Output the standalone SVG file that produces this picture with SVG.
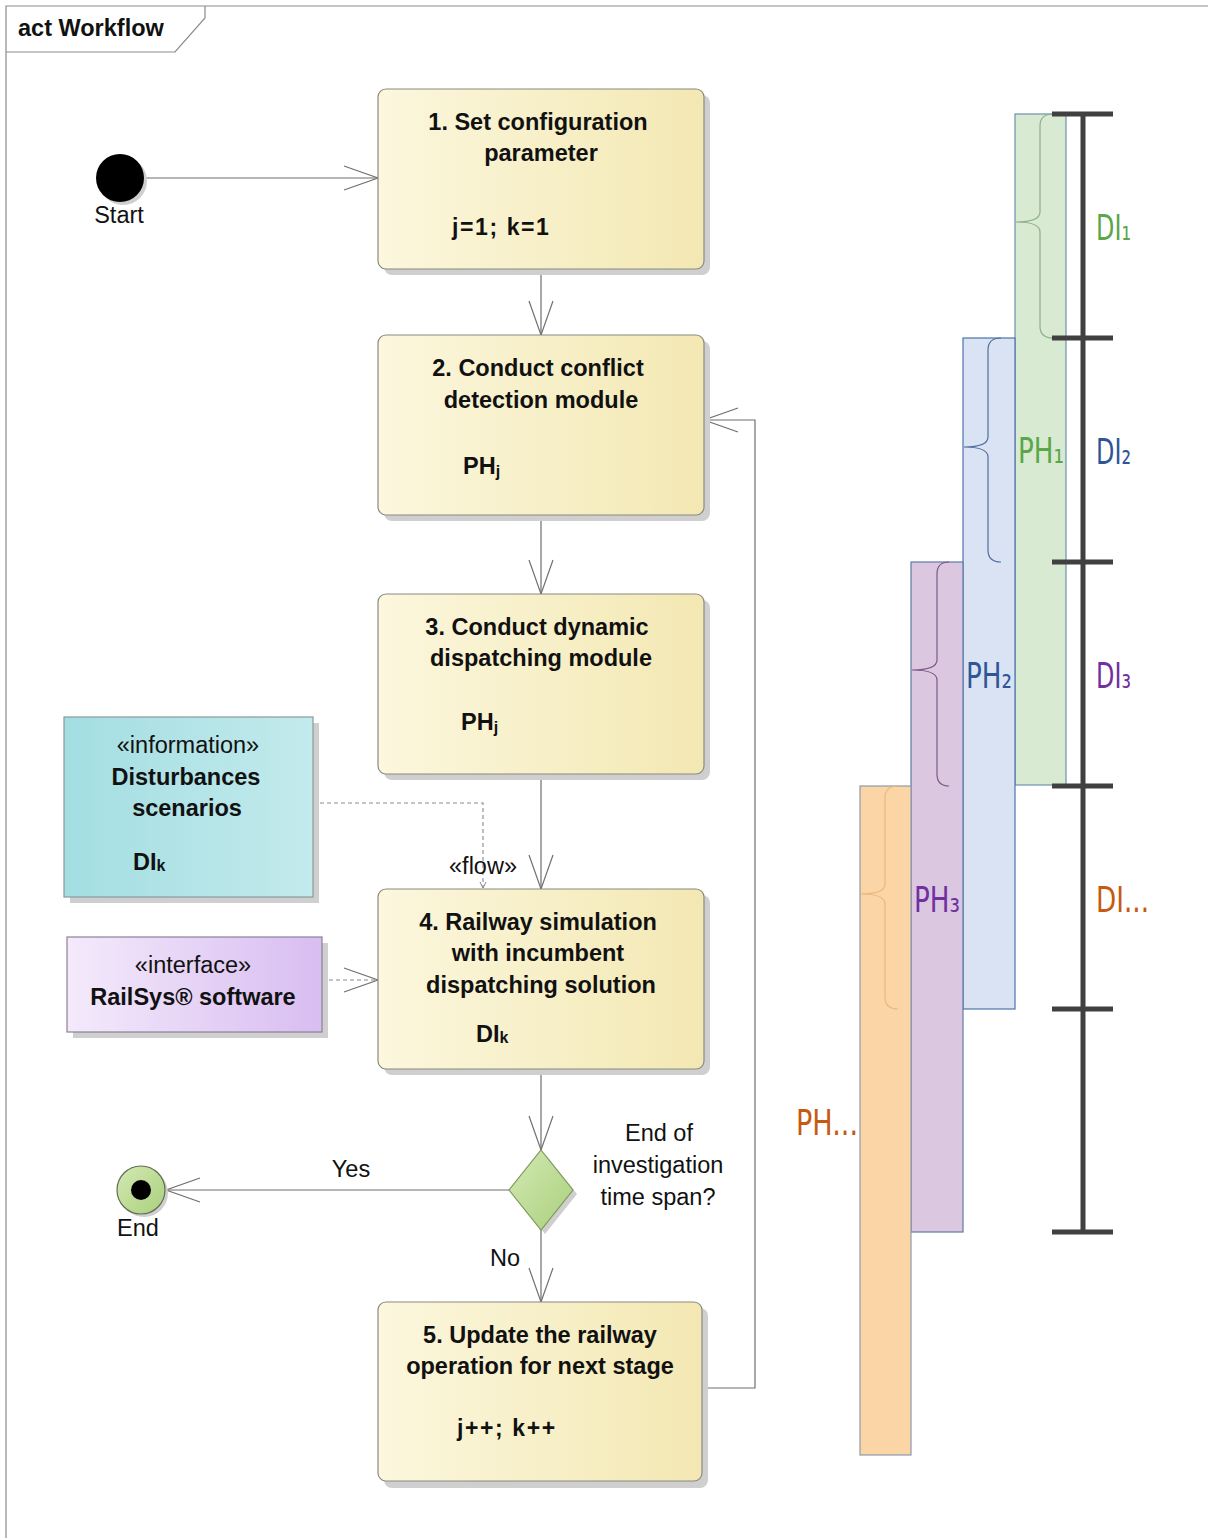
<svg xmlns="http://www.w3.org/2000/svg" width="1208" height="1538" viewBox="0 0 1208 1538">
  <defs>
    <linearGradient id="gAction" x1="0" y1="0" x2="1" y2="0">
      <stop offset="0" stop-color="#fcf7de"/>
      <stop offset="1" stop-color="#f3e8b3"/>
    </linearGradient>
    <linearGradient id="gInfo" x1="0" y1="0" x2="1" y2="0">
      <stop offset="0" stop-color="#a3dee2"/>
      <stop offset="1" stop-color="#c3eaec"/>
    </linearGradient>
    <linearGradient id="gIface" x1="0" y1="0" x2="1" y2="0">
      <stop offset="0" stop-color="#f4eafb"/>
      <stop offset="1" stop-color="#d8bdf1"/>
    </linearGradient>
    <linearGradient id="gGreen" x1="0" y1="0" x2="1" y2="1">
      <stop offset="0" stop-color="#d4e9b4"/>
      <stop offset="1" stop-color="#a9d07c"/>
    </linearGradient>
    <marker id="open" markerUnits="userSpaceOnUse" markerWidth="40" markerHeight="30" viewBox="-36 -14 40 28" refX="0" refY="0" orient="auto">
      <path d="M-34,-12 L0,0 L-34,12" fill="none" stroke="#707070" stroke-width="1.2"/>
    </marker>
    <marker id="small" markerUnits="userSpaceOnUse" markerWidth="10" markerHeight="10" viewBox="-8 -5 10 10" refX="0" refY="0" orient="auto">
      <path d="M-6,-3 L0,0 L-6,3" fill="none" stroke="#888" stroke-width="1"/>
    </marker>
  </defs>
  <style>
    .frame { fill: none; stroke: #8c8c8c; stroke-width: 1.2; }
    .shadow { fill: #cfcfcf; }
    .action { fill: url(#gAction); stroke: #8a8a80; stroke-width: 1.2; }
    .t { font-family: "Liberation Sans", Arial, sans-serif; font-size: 23.5px; fill: #111; }
    .b { font-weight: bold; }
    .c { text-anchor: middle; }
    .mono { font-family: "Liberation Sans", Arial, sans-serif; font-weight: bold; font-size: 23px; letter-spacing: 1.6px; fill: #111; }
    .flow { fill: none; stroke: #6e6e6e; stroke-width: 1.2; }
    .dash { fill: none; stroke: #8a8a8a; stroke-width: 1.1; stroke-dasharray: 4 3; }
    .ph { font-family: "DejaVu Sans Condensed", "DejaVu Sans", sans-serif; font-size: 36px; }
    .tick { stroke: #404040; stroke-width: 5; }
    .brace { fill: none; stroke-width: 1.2; }
  </style>

  <!-- activity frame -->
  <g id="frame">
    <path class="frame" d="M6,1538 L6,6 L1208,6"/>
    <path class="frame" d="M6,52 L175,52 L205,18 L205,6"/>
    <text class="t b" x="18" y="36">act Workflow</text>
  </g>

  <!-- time-line chart: prediction horizons -->
  <g id="horizons">
    <rect x="1015" y="114" width="51" height="671" fill="#d8ebd2" stroke="#6e8fae" stroke-width="1.2"/>
    <rect x="963" y="338" width="52" height="671" fill="#dae3f3" stroke="#4d74a8" stroke-width="1.2"/>
    <rect x="911" y="562" width="52" height="670" fill="#dcc7e0" stroke="#5d7aa6" stroke-width="1.2"/>
    <rect x="860" y="786" width="51" height="669" fill="#fcd5a7" stroke="#8e9aa8" stroke-width="1.2"/>
    <path class="brace" stroke="#8fae8a" d="M1053,114 Q1040,114 1040,126 L1040,212 Q1040,222 1016,222 Q1040,222 1040,232 L1040,326 Q1040,338 1053,338"/>
    <path class="brace" stroke="#4f6f9e" d="M1001,338 Q988,338 988,350 L988,437 Q988,447 964,447 Q988,447 988,457 L988,550 Q988,562 1001,562"/>
    <path class="brace" stroke="#7a5a88" d="M949,562 Q937,562 937,574 L937,660 Q937,670 912,670 Q937,670 937,680 L937,774 Q937,786 949,786"/>
    <path class="brace" stroke="#eab781" d="M898,786 Q885,786 885,798 L885,884 Q885,894 861,894 Q885,894 885,904 L885,997 Q885,1009 898,1009"/>
    <text class="ph" x="1018" y="463" fill="#5aa648" textLength="46" lengthAdjust="spacingAndGlyphs">PH₁</text>
    <text class="ph" x="966" y="688" fill="#2f5597" textLength="46" lengthAdjust="spacingAndGlyphs">PH₂</text>
    <text class="ph" x="914" y="912" fill="#7030a0" textLength="46" lengthAdjust="spacingAndGlyphs">PH₃</text>
    <text class="ph" x="796" y="1135" fill="#c55a11" textLength="62" lengthAdjust="spacingAndGlyphs">PH...</text>
  </g>

  <!-- time-line chart: disturbance intervals -->
  <g id="intervals">
    <line class="tick" x1="1083" y1="114" x2="1083" y2="1232"/>
    <line class="tick" x1="1052" y1="114" x2="1113" y2="114"/>
    <line class="tick" x1="1052" y1="338" x2="1113" y2="338"/>
    <line class="tick" x1="1052" y1="562" x2="1113" y2="562"/>
    <line class="tick" x1="1052" y1="786" x2="1113" y2="786"/>
    <line class="tick" x1="1052" y1="1009" x2="1113" y2="1009"/>
    <line class="tick" x1="1052" y1="1232" x2="1113" y2="1232"/>
    <text class="ph" x="1096" y="240" fill="#5aa648" textLength="35" lengthAdjust="spacingAndGlyphs">DI₁</text>
    <text class="ph" x="1096" y="464" fill="#2f5597" textLength="35" lengthAdjust="spacingAndGlyphs">DI₂</text>
    <text class="ph" x="1096" y="688" fill="#7030a0" textLength="35" lengthAdjust="spacingAndGlyphs">DI₃</text>
    <text class="ph" x="1096" y="912" fill="#c55a11" textLength="53" lengthAdjust="spacingAndGlyphs">DI...</text>
  </g>

  <!-- connectors -->
  <g id="connectors">
    <line class="flow" x1="144" y1="178" x2="378" y2="178" marker-end="url(#open)"/>
    <line class="flow" x1="541" y1="269" x2="541" y2="335" marker-end="url(#open)"/>
    <line class="flow" x1="541" y1="515" x2="541" y2="594" marker-end="url(#open)"/>
    <line class="flow" x1="541" y1="774" x2="541" y2="889" marker-end="url(#open)"/>
    <line class="flow" x1="541" y1="1069" x2="541" y2="1150" marker-end="url(#open)"/>
    <line class="flow" x1="541" y1="1230" x2="541" y2="1302" marker-end="url(#open)"/>
    <line class="flow" x1="509" y1="1190" x2="166" y2="1190" marker-end="url(#open)"/>
    <polyline class="flow" points="704,1388 755,1388 755,420 704,420" marker-end="url(#open)"/>
    <polyline class="dash" points="313,803 483,803 483,888" marker-end="url(#small)"/>
    <line class="dash" x1="322" y1="980" x2="378" y2="980" marker-end="url(#open)"/>
    <text class="t" x="351" y="1177" text-anchor="middle">Yes</text>
    <text class="t" x="505" y="1266" text-anchor="middle">No</text>
    <text class="t" x="483" y="874" text-anchor="middle">«flow»</text>
  </g>

  <!-- start node -->
  <g id="start">
    <circle cx="123" cy="181" r="24" fill="#cfcfcf"/>
    <circle cx="120" cy="178" r="24" fill="#000"/>
    <text class="t c" x="119" y="223">Start</text>
  </g>

  <!-- 1. set configuration parameter -->
  <g id="a1">
    <rect class="shadow" x="384" y="95" width="326" height="180" rx="8"/>
    <rect class="action" x="378" y="89" width="326" height="180" rx="8"/>
    <text class="t b c" x="538" y="130">1. Set configuration</text>
    <text class="t b c" x="541" y="161">parameter</text>
    <text class="mono" x="452" y="235">j=1; k=1</text>
  </g>

  <!-- 2. conflict detection -->
  <g id="a2">
    <rect class="shadow" x="384" y="341" width="326" height="180" rx="8"/>
    <rect class="action" x="378" y="335" width="326" height="180" rx="8"/>
    <text class="t b c" x="538" y="376">2. Conduct conflict</text>
    <text class="t b c" x="541" y="408">detection module</text>
    <text class="t b" x="463" y="474">PH<tspan font-size="16" dy="3">j</tspan></text>
  </g>

  <!-- 3. dynamic dispatching -->
  <g id="a3">
    <rect class="shadow" x="384" y="600" width="326" height="180" rx="8"/>
    <rect class="action" x="378" y="594" width="326" height="180" rx="8"/>
    <text class="t b c" x="537" y="635">3. Conduct dynamic</text>
    <text class="t b c" x="541" y="666">dispatching module</text>
    <text class="t b" x="461" y="730">PH<tspan font-size="16" dy="3">j</tspan></text>
  </g>

  <!-- 4. railway simulation -->
  <g id="a4">
    <rect class="shadow" x="384" y="895" width="326" height="180" rx="8"/>
    <rect class="action" x="378" y="889" width="326" height="180" rx="8"/>
    <text class="t b c" x="538" y="930">4. Railway simulation</text>
    <text class="t b c" x="538" y="961">with incumbent</text>
    <text class="t b c" x="541" y="993">dispatching solution</text>
    <text class="t b" x="476" y="1042">DI<tspan font-size="16" dy="1">k</tspan></text>
  </g>

  <!-- information: disturbance scenarios -->
  <g id="info">
    <rect class="shadow" x="70" y="723" width="249" height="180"/>
    <rect x="64" y="717" width="249" height="180" fill="url(#gInfo)" stroke="#8a9a9c" stroke-width="1.2"/>
    <text class="t c" x="188" y="753">«information»</text>
    <text class="t b c" x="186" y="785">Disturbances</text>
    <text class="t b c" x="187" y="816">scenarios</text>
    <text class="t b" x="133" y="870">DI<tspan font-size="16" dy="1">k</tspan></text>
  </g>

  <!-- interface: RailSys -->
  <g id="iface">
    <rect class="shadow" x="73" y="943" width="255" height="95"/>
    <rect x="67" y="937" width="255" height="95" fill="url(#gIface)" stroke="#8a8098" stroke-width="1.2"/>
    <text class="t c" x="193" y="973">«interface»</text>
    <text class="t b c" x="193" y="1005">RailSys® software</text>
  </g>

  <!-- decision -->
  <g id="decision">
    <path d="M545,1154 L577,1194 L545,1234 L513,1194 Z" fill="#cfcfcf"/>
    <path d="M541,1150 L573,1190 L541,1230 L509,1190 Z" fill="url(#gGreen)" stroke="#7d9a5a" stroke-width="1.2"/>
    <text class="t c" x="659" y="1141">End of</text>
    <text class="t c" x="658" y="1173">investigation</text>
    <text class="t c" x="658" y="1205">time span?</text>
  </g>

  <!-- end node -->
  <g id="end">
    <circle cx="144" cy="1193" r="24" fill="#cfcfcf"/>
    <circle cx="141" cy="1190" r="24" fill="url(#gGreen)" stroke="#5f6d52" stroke-width="1.2"/>
    <circle cx="141" cy="1190" r="10" fill="#000"/>
    <text class="t c" x="138" y="1236">End</text>
  </g>

  <!-- 5. update railway operation -->
  <g id="a5">
    <rect class="shadow" x="384" y="1308" width="324" height="180" rx="8"/>
    <rect class="action" x="378" y="1302" width="324" height="179" rx="8"/>
    <text class="t b c" x="540" y="1343">5. Update the railway</text>
    <text class="t b c" x="540" y="1374">operation for next stage</text>
    <text class="mono" x="457" y="1436">j++; k++</text>
  </g>
</svg>
